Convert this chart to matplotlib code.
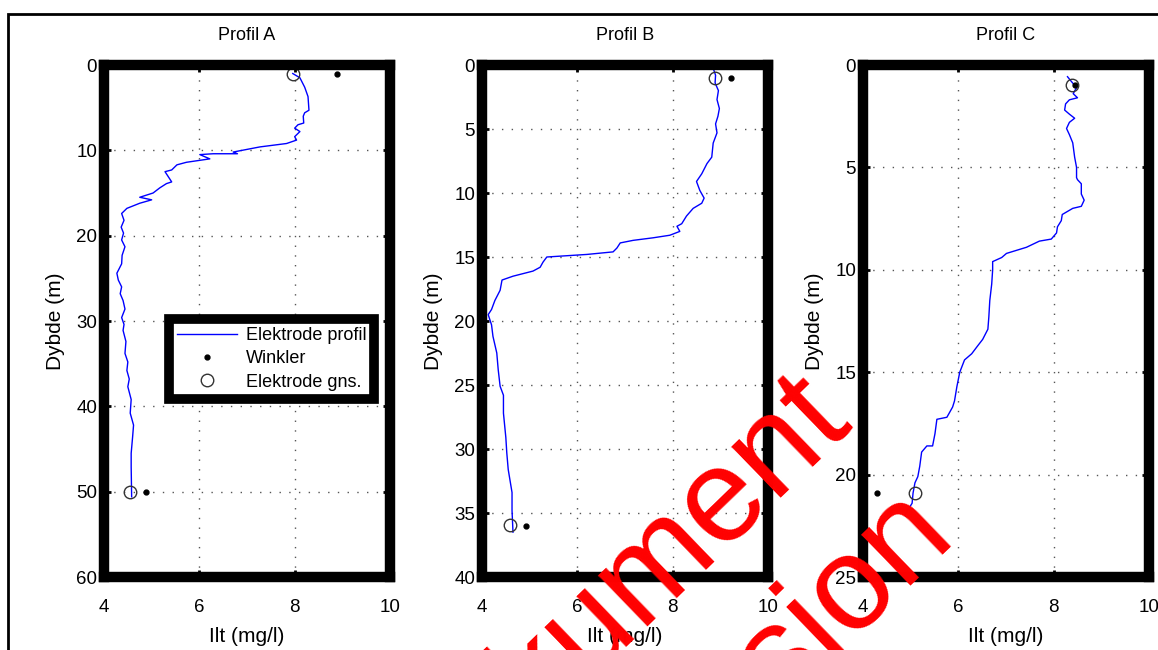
import matplotlib.pyplot as plt
from matplotlib.patches import Rectangle

plt.rcParams['font.family'] = ['Liberation Sans', 'DejaVu Sans']

# Profil A: electrode profile (oxygen mg/l, depth m)
a_ilt = [7.96, 8.11, 8.21, 8.28, 8.30, 8.21, 8.18, 8.19, 8.07, 8.00, 8.11, 8.00, 8.04,
         7.83, 7.27, 6.71, 6.80, 6.29, 6.01, 6.22, 5.73, 5.53, 5.42, 5.28, 5.35, 5.42,
         5.31, 5.17, 5.03, 4.75, 5.00, 4.75, 4.48, 4.37, 4.42, 4.36, 4.41, 4.37, 4.44,
         4.38, 4.37, 4.27, 4.30, 4.37, 4.34, 4.40, 4.44, 4.37, 4.42, 4.40, 4.46, 4.44,
         4.50, 4.48, 4.53, 4.50, 4.57, 4.55, 4.62, 4.60, 4.57, 4.57, 4.58]
a_dybde = [1.0, 1.5, 2.6, 3.7, 5.3, 5.6, 6.0, 6.8, 7.0, 7.4, 7.8, 8.4, 8.8,
           9.2, 9.6, 10.2, 10.4, 10.4, 10.5, 11.0, 11.4, 11.7, 12.3, 12.5, 13.1, 13.7,
           13.9, 14.4, 15.0, 15.5, 15.8, 16.2, 16.8, 17.4, 18.2, 19.0, 19.7, 20.5, 21.3,
           22.3, 23.3, 24.4, 25.2, 26.0, 26.8, 27.6, 28.6, 29.6, 30.4, 31.1, 32.4, 33.8,
           34.8, 35.8, 36.8, 37.7, 39.2, 40.8, 42.2, 43.6, 45.5, 47.1, 50.6]
a_winkler = ([8.89, 4.88], [1.0, 50.0])
a_gns = ([7.96, 4.55], [1.0, 50.0])

# Profil B
b_ilt = [8.22, 8.57, 8.85, 8.90, 8.89, 8.96, 8.93, 8.98, 8.95, 8.90, 8.93, 8.85, 8.82,
         8.72, 8.61, 8.50, 8.57, 8.66, 8.61, 8.43, 8.29, 8.19, 8.09, 8.15, 7.94, 7.59,
         7.17, 6.90, 6.83, 6.75, 6.20, 5.78, 5.36, 5.28, 5.22, 5.07, 4.65, 4.42, 4.38,
         4.27, 4.20, 4.13, 4.20, 4.23, 4.31, 4.34, 4.38, 4.45, 4.45, 4.50, 4.52, 4.55,
         4.63, 4.63, 4.65]
b_dybde = [0.25, 0.1, 0.25, 0.8, 1.4, 2.0, 2.7, 3.4, 4.0, 4.6, 5.3, 6.1, 7.2,
           7.7, 8.5, 9.1, 9.8, 10.4, 10.8, 11.2, 11.8, 12.4, 12.6, 13.0, 13.3, 13.5,
           13.7, 13.9, 14.3, 14.6, 14.8, 14.9, 15.0, 15.4, 15.8, 16.1, 16.5, 16.8, 17.6,
           18.4, 19.1, 19.5, 20.3, 21.2, 22.5, 23.8, 25.1, 25.8, 27.2, 29.1, 30.3, 31.6,
           33.4, 34.8, 36.5]
b_winkler = ([9.22, 4.92], [1.0, 36.0])
b_gns = ([8.89, 4.59], [1.0, 35.9])

# Profil C
c_ilt = [8.29, 8.37, 8.48, 8.41, 8.50, 8.33, 8.25, 8.23, 8.33, 8.44, 8.33, 8.27, 8.33,
         8.40, 8.44, 8.48, 8.48, 8.50, 8.58, 8.58, 8.64, 8.58, 8.40, 8.18, 8.16, 8.08,
         8.06, 7.95, 7.70, 7.43, 7.01, 6.91, 6.72, 6.72, 6.70, 6.66, 6.64, 6.62, 6.51,
         6.41, 6.28, 6.13, 6.03, 5.97, 5.92, 5.88, 5.76, 5.55, 5.51, 5.46, 5.34, 5.23,
         5.19, 5.15, 5.09, 5.05, 5.03, 4.92, 4.88]
c_dybde = [0.57, 0.8, 1.1, 1.4, 1.6, 1.7, 1.9, 2.2, 2.4, 2.6, 2.8, 3.1, 3.4,
           3.8, 4.5, 5.0, 5.5, 5.6, 5.8, 6.3, 6.6, 6.9, 7.0, 7.3, 7.6, 7.9,
           8.2, 8.5, 8.6, 8.9, 9.2, 9.4, 9.6, 10.0, 10.7, 11.5, 12.3, 12.9, 13.4,
           13.7, 14.1, 14.4, 15.0, 15.7, 16.4, 16.7, 17.2, 17.3, 18.0, 18.6, 18.6, 18.9,
           19.6, 20.1, 20.4, 20.9, 21.4, 21.8, 22.0]
c_winkler = ([4.29, 8.44], [20.9, 1.0])
c_gns = ([5.09, 8.39], [20.9, 1.0])

titles = ['Profil A', 'Profil B', 'Profil C']
ymax = [60, 40, 25]
ystep = [10, 5, 5]
xticks = [4, 6, 8, 10]

profiles = [(a_ilt, a_dybde, a_winkler, a_gns),
            (b_ilt, b_dybde, b_winkler, b_gns),
            (c_ilt, c_dybde, c_winkler, c_gns)]

fig = plt.figure(figsize=(11.58, 6.5), dpi=100)
W, H = 1158, 650
lefts = [104, 482, 863]

for i, (ilt, dyb, wink, gns) in enumerate(profiles):
    ax = fig.add_axes([lefts[i] / W, 1 - 577 / H, 286 / W, 512 / H])
    l1, = ax.plot(ilt, dyb, color='blue', lw=1.0, label='Elektrode profil')
    l2, = ax.plot(wink[0], wink[1], 'k.', ms=7, label='Winkler')
    l3, = ax.plot(gns[0], gns[1], 'o', mfc='none', mec='#333333', ms=9, mew=1.0,
                  label='Elektrode gns.')
    ax.set_xlim(4, 10)
    ax.set_ylim(ymax[i], 0)
    ax.set_xticks(xticks)
    ax.set_yticks(range(0, ymax[i] + 1, ystep[i]))
    ax.grid(True, color='#555555', linestyle=(0, (1, 6)), lw=1.0)
    for s in ax.spines.values():
        s.set_linewidth(7.5)
    ax.tick_params(direction='in', length=5, width=2, top=True, right=True,
                   labelsize=13.5, pad=5)
    ax.tick_params(axis='x', pad=16)
    ax.set_title(titles[i], fontsize=13, pad=18)
    ax.set_xlabel('Ilt (mg/l)', fontsize=15, labelpad=8)
    ax.set_ylabel('Dybde (m)', fontsize=15, labelpad=8)
    if i == 0:
        leg = ax.legend(handles=[l1, l2, l3], loc='upper left',
                        bbox_to_anchor=(0.195, 0.522), fontsize=13, fancybox=False,
                        framealpha=1, edgecolor='black', handlelength=3.3,
                        handletextpad=0.5, borderpad=0.45, labelspacing=0.35)
        leg.get_frame().set_linewidth(7)

# outer frame
fig.patches.append(Rectangle((8 / W, -0.1), 1.2, 1 - 14 / H + 0.1, fill=False,
                             edgecolor='black', lw=2, transform=fig.transFigure,
                             figure=fig))

# watermark
fig.text(852 / W, 1 - 419 / H, 'Dokument', color='red', fontsize=96,
         rotation=44, rotation_mode='anchor', ha='right', va='baseline')
fig.text(958 / W, 1 - 540 / H, 'version', color='red', fontsize=96,
         rotation=44, rotation_mode='anchor', ha='right', va='baseline')

fig.savefig('out.png', dpi=100)
